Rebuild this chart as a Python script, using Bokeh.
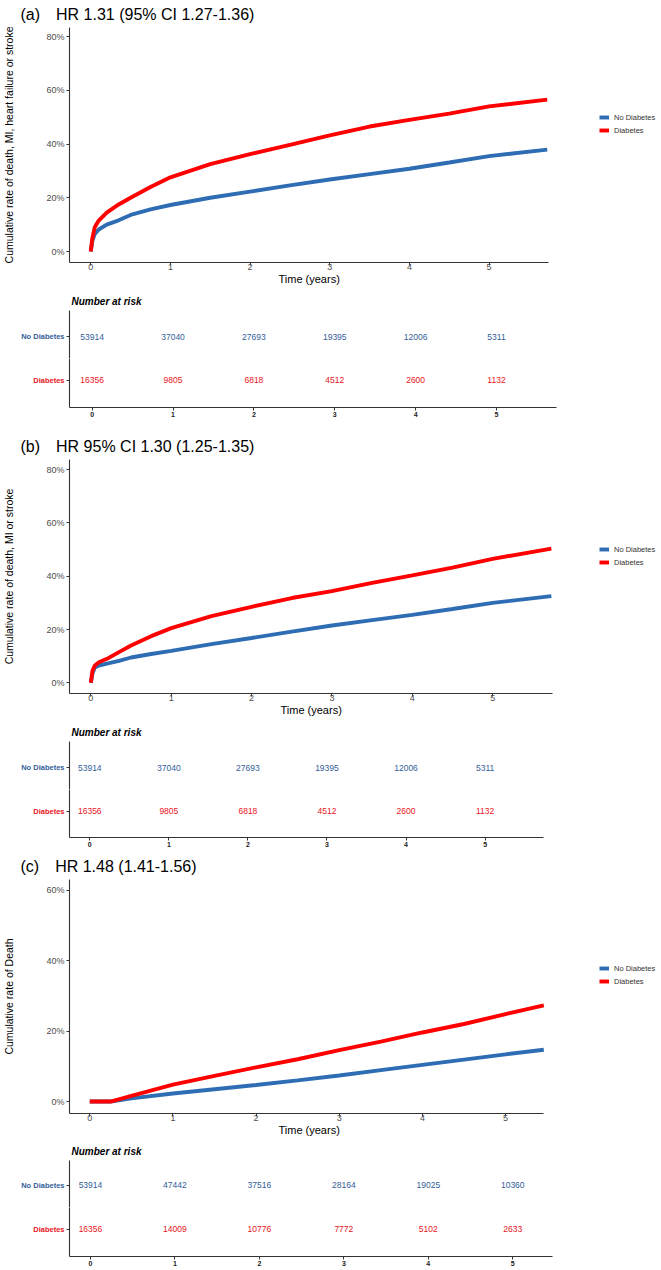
from bokeh.plotting import figure
from bokeh.layouts import column
from bokeh.models import (FixedTicker, PrintfTickFormatter, Range1d, Legend,
                          LegendItem, Title)
from bokeh.embed import file_html
from bokeh.resources import INLINE
from bokeh.core.properties import value

FONT = "Liberation Sans"
BLUE = "#2e6db4"
RED = "#ff0000"
BLUE_TXT = "#34609a"
RED_TXT = "#e8141c"
TICK_TXT = "#4d4d4d"
AXIS_COL = "#333333"
W = 660
LEFT = 68
RIGHT = 4

# ---------------- data ----------------
groups = ["No Diabetes", "Diabetes"]
risk_times = [0, 1, 2, 3, 4, 5]

# panel (a): death, MI, heart failure or stroke
t_a = [0, 0.02, 0.05, 0.1, 0.2, 0.35, 0.5, 0.75, 1, 1.5, 2, 2.5, 3, 3.5, 4, 4.5, 5, 5.73]
nodm_a = [0, 4, 6.5, 8.2, 10, 11.6, 13.6, 15.7, 17.3, 20, 22.3, 24.6, 26.8, 28.8, 30.8, 33.1, 35.5, 37.9]
dm_a = [0, 5, 9, 11.5, 14.5, 17.5, 20, 24, 27.6, 32.5, 36.2, 39.7, 43.2, 46.5, 49, 51.3, 54, 56.5]
risk_nodm_a = [53914, 37040, 27693, 19395, 12006, 5311]
risk_dm_a = [16356, 9805, 6818, 4512, 2600, 1132]

# panel (b): death, MI or stroke
t_b = [0, 0.02, 0.05, 0.1, 0.2, 0.35, 0.5, 0.75, 1, 1.5, 2, 2.5, 3, 3.5, 4, 4.5, 5, 5.73]
nodm_b = [0, 3.5, 5.8, 6.5, 7.2, 8.2, 9.5, 10.8, 12, 14.5, 16.8, 19.2, 21.5, 23.5, 25.5, 27.7, 30, 32.5]
dm_b = [0, 4.5, 6.5, 7.7, 9, 11.5, 14, 17.5, 20.5, 25, 28.5, 31.8, 34.4, 37.5, 40.3, 43.2, 46.5, 50.3]
risk_nodm_b = [53914, 37040, 27693, 19395, 12006, 5311]
risk_dm_b = [16356, 9805, 6818, 4512, 2600, 1132]

# panel (c): death
t_c = [0, 0.25, 0.5, 1, 1.5, 2, 2.5, 3, 3.5, 4, 4.5, 5, 5.46]
nodm_c = [0, 0, 0.9, 2.3, 3.5, 4.7, 6, 7.4, 8.9, 10.4, 11.9, 13.4, 14.7]
dm_c = [0, 0, 1.6, 4.8, 7.3, 9.7, 12, 14.6, 17, 19.6, 22, 24.8, 27.3]
risk_nodm_c = [53914, 47442, 37516, 28164, 19025, 10360]
risk_dm_c = [16356, 14009, 10776, 7772, 5102, 2633]

GAP = "\u2003"
titles = ["(a)" + GAP + "HR 1.31 (95% CI 1.27-1.36)",
          "(b)" + GAP + "HR 95% CI 1.30 (1.25-1.35)",
          "(c)" + GAP + "HR 1.48 (1.41-1.56)"]
ylabels = ["Cumulative rate of death, MI, heart failure or stroke",
           "Cumulative rate of death, MI or stroke",
           "Cumulative rate of Death"]
xlabel = "Time (years)"
yticks_ab = [0, 20, 40, 60, 80]
yticks_c = [0, 20, 40, 60]
xticks = [0, 1, 2, 3, 4, 5]


def xr_from(px0, ppy, axis_end):
    """x range for a frame spanning LEFT..W-RIGHT, zero at px0, ppy px per year."""
    start = (LEFT - px0) / ppy
    end = (W - RIGHT - px0) / ppy
    return start, end, axis_end


def style_axis(ax):
    ax.axis_line_color = AXIS_COL
    ax.axis_line_width = 1.1
    ax.major_tick_line_color = AXIS_COL
    ax.major_tick_out = 3
    ax.major_tick_in = 0
    ax.minor_tick_out = 0
    ax.minor_tick_in = 0
    ax.major_label_text_font = FONT
    ax.axis_label_text_font = FONT
    ax.axis_label_text_font_style = "normal"
    ax.axis_label_text_color = "black"


def base_fig(h, xr, yr, top, bottom):
    p = figure(width=W, height=h, output_backend="svg", toolbar_location=None,
               x_range=Range1d(xr[0], xr[1]), y_range=Range1d(*yr),
               min_border_left=LEFT, min_border_right=RIGHT,
               min_border_top=top, min_border_bottom=bottom)
    p.xgrid.visible = False
    p.ygrid.visible = False
    p.outline_line_color = None
    for ax in (p.xaxis[0], p.yaxis[0]):
        style_axis(ax)
    p.xaxis.bounds = (xr[0], xr[2])
    return p


def km_fig(title, ylab, t, nodm, dm, yticks, xr, yr, h, top, bottom, leg_y, xlab_off):
    p = base_fig(h, xr, yr, top, bottom)
    p.title.text = title
    p.title.text_font = FONT
    p.title.text_font_size = "16px"
    p.title.text_font_style = "normal"
    p.title.text_color = "black"
    p.title.align = "left"
    p.title.vertical_align = "top"
    p.title.offset = -49
    p.title.standoff = 6
    rb = p.line(t, nodm, line_color=BLUE, line_width=3.9)
    rr = p.line(t, dm, line_color=RED, line_width=3.9)
    p.xaxis.ticker = FixedTicker(ticks=xticks)
    p.xaxis.major_label_text_font_size = "9px"
    p.xaxis.major_label_text_color = TICK_TXT
    p.xaxis.major_label_standoff = -2
    # x axis title, centred under the drawn axis line (not the wider frame)
    p.add_layout(Title(text=xlabel, align="left", offset=xlab_off,
                       vertical_align="top", standoff=0,
                       text_font=FONT, text_font_size="11px",
                       text_font_style="normal", text_color="black"), "below")
    p.yaxis.ticker = FixedTicker(ticks=yticks)
    p.yaxis.formatter = PrintfTickFormatter(format="%d%%")
    p.yaxis.major_label_text_font_size = "9px"
    p.yaxis.major_label_text_color = TICK_TXT
    p.yaxis.major_label_standoff = 2
    p.yaxis.axis_label = ylab
    p.yaxis.axis_label_text_font_size = "10.5px"
    p.yaxis.axis_label_standoff = 28
    leg = Legend(items=[LegendItem(label=groups[0], renderers=[rb]),
                        LegendItem(label=groups[1], renderers=[rr])],
                 location=(598 - LEFT, leg_y), orientation="vertical",
                 glyph_width=10, glyph_height=10, label_height=10,
                 label_standoff=5, spacing=3, padding=0, margin=0,
                 label_text_font=FONT, label_text_font_size="7.5px",
                 label_text_color="#333333",
                 background_fill_alpha=0, border_line_alpha=0)
    p.add_layout(leg)
    return p


def risk_half(counts, row, color, xr, yr, h, top, bottom, with_title, with_xaxis):
    p = base_fig(h, xr, yr, top, bottom)
    if with_title:
        p.title.text = "Number at risk"
        p.title.text_font = FONT
        p.title.text_font_size = "10px"
        p.title.text_font_style = "bold italic"
        p.title.text_color = "black"
        p.title.align = "left"
        p.title.offset = 2
        p.title.standoff = 7
    n = len(risk_times)
    p.text(x=risk_times, y=[row] * n, text=[str(v) for v in counts],
           text_color=color, text_align="center", text_baseline="middle",
           text_font=value(FONT), text_font_size="8.5px")
    p.yaxis.ticker = FixedTicker(ticks=[row])
    p.yaxis.major_label_overrides = {row: groups[0] if row == 1 else groups[1]}
    p.yaxis.major_label_text_font_size = "7.5px"
    p.yaxis.major_label_text_font_style = "bold"
    p.yaxis.major_label_text_color = color
    p.yaxis.major_label_standoff = 2
    if with_xaxis:
        p.xaxis.ticker = FixedTicker(ticks=xticks)
        p.xaxis.major_label_text_font_size = "7px"
        p.xaxis.major_label_text_font_style = "bold"
        p.xaxis.major_label_text_color = "#222222"
        p.xaxis.major_label_standoff = 1
    else:
        p.xaxis.visible = False
    return p


def risk_table(nodm_n, dm_n, xr, split_top, split_bot, h_top, h_bot, top, bottom):
    a = risk_half(nodm_n, 1, BLUE_TXT, xr, (0.5, split_top), h_top, top, 0, True, False)
    b = risk_half(dm_n, 0, RED_TXT, xr, (split_bot, 0.5), h_bot, 0, bottom, False, True)
    return [a, b]


# pixel calibration of each panel: zero position, px per year, axis end (years)
xr_a = xr_from(89.3, 79.8, 5.744)
xr_ta = xr_from(90.7, 81.0, 5.748)
xr_b = xr_from(89.4, 80.5, 5.747)
xr_tb = xr_from(88.3, 79.2, 5.745)
xr_c = xr_from(88.3, 83.3, 5.46)
xr_tc = xr_from(89.0, 84.6, 5.47)

fa = km_fig(titles[0], ylabels[0], t_a, nodm_a, dm_a, yticks_ab,
            xr_a, (-4.09, 83.35), 288, 27, 26, 127, 209)
ta = risk_table(risk_nodm_a, risk_dm_a, xr_ta, 1.591, -0.614, 70, 74, 22, 25)
fb = km_fig(titles[1], ylabels[1], t_b, nodm_b, dm_b, yticks_ab,
            xr_b, (-4.0, 83.75), 287, 27, 26, 126, 211)
tb = risk_table(risk_nodm_b, risk_dm_b, xr_tb, 1.606, -0.606, 70, 65, 22, 17)
fc = km_fig(titles[2], ylabels[2], t_c, nodm_c, dm_c, yticks_c,
            xr_c, (-3.39, 63.0), 285, 24, 26, 127, 209)
tc = risk_table(risk_nodm_c, risk_dm_c, xr_tc, 1.568, -0.614, 68, 62, 21, 13)

layout = column([fa] + ta + [fb] + tb + [fc] + tc, spacing=0)
open("out.html", "w").write(file_html(layout, INLINE))
